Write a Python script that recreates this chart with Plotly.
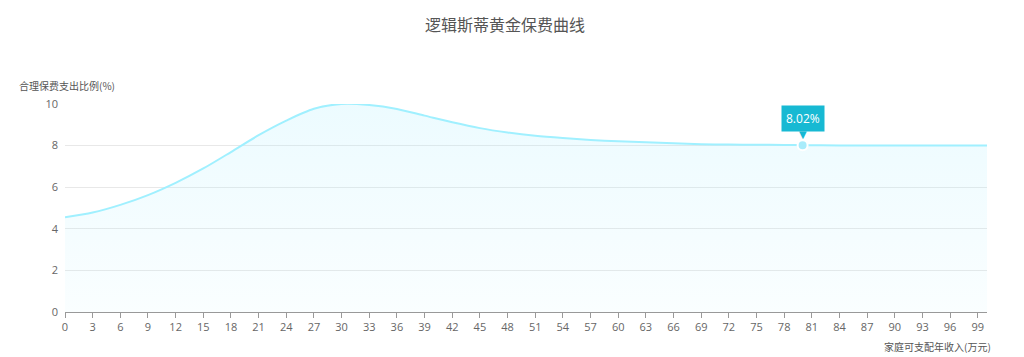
import plotly.graph_objects as go

# Data
income = [0, 3, 6, 9, 12, 15, 18, 21, 24, 27, 30, 33, 36, 39, 42, 45, 48, 51, 54, 57,
          60, 63, 66, 69, 72, 75, 78, 80, 84, 87, 90, 93, 96, 99, 100]
ratio = [4.55, 4.78, 5.15, 5.62, 6.21, 6.90, 7.69, 8.50, 9.20, 9.77, 10.0, 9.95, 9.76,
         9.44, 9.12, 8.84, 8.63, 8.47, 8.36, 8.27, 8.21, 8.16, 8.11, 8.07, 8.05, 8.04,
         8.03, 8.02, 8.01, 8.01, 8.01, 8.0, 8.0, 8.0, 8.0]
mark_x = [80]
mark_y = [8.02]
mark_label = ["8.02%"]
x_ticks = list(range(0, 100, 3))
y_ticks = [0, 2, 4, 6, 8, 10]

fig = go.Figure()
fig.add_trace(go.Scatter(
    x=income, y=ratio, mode="lines",
    line=dict(color="#a0f0ff", width=2, shape="spline", smoothing=0.8),
    fill="tozeroy",
    fillgradient=dict(type="vertical",
                      colorscale=[[0, "rgba(170,238,255,0.06)"], [1, "rgba(170,238,255,0.22)"]]),
    hoverinfo="skip", showlegend=False,
))
fig.add_trace(go.Scatter(
    x=mark_x, y=mark_y, mode="markers",
    marker=dict(size=10, color="#a9ecfb", line=dict(color="white", width=2)),
    showlegend=False, hoverinfo="skip",
))
for mx, my, lab in zip(mark_x, mark_y, mark_label):
    fig.add_annotation(x=mx, y=my, text=lab, showarrow=False, yanchor="bottom",
                       yshift=13, bgcolor="#17b9d3", borderpad=4,
                       font=dict(color="white", size=12, family="Open Sans, sans-serif"))
    fig.add_annotation(x=mx, y=my, text="▼", showarrow=False, yanchor="bottom",
                       yshift=3, font=dict(color="#17b9d3", size=10, family="DejaVu Sans"))

fig.update_layout(
    width=1008, height=349,
    margin=dict(l=57, r=29, t=96, b=45),
    paper_bgcolor="white", plot_bgcolor="white",
    title=dict(text="逻辑斯蒂黄金保费曲线", x=0.493, xanchor="center", y=0.951, yanchor="middle",
               font=dict(size=16, color="#555", family="Noto Sans CJK SC")),
    font=dict(family="Open Sans, Noto Sans CJK SC, sans-serif", color="#666", size=11),
    xaxis=dict(range=[0, 100], tickvals=x_ticks, ticktext=[str(v) for v in x_ticks],
               showgrid=False, zeroline=False, showline=True, linecolor="#999", linewidth=1,
               ticks="outside", ticklen=5, tickcolor="#999",
               tickfont=dict(size=11, color="#666")),
    yaxis=dict(range=[0, 10], tickvals=y_ticks, showgrid=True, gridcolor="#e8e8e8",
               zeroline=False, showline=False, ticks="", ticklabelstandoff=6,
               tickfont=dict(size=11, color="#666")),
)
fig.add_annotation(xref="paper", yref="paper", x=-0.052, y=1.091, xanchor="left",
                   yanchor="middle", text="合理保费支出比例(%)", showarrow=False,
                   font=dict(size=10, color="#555", family="Noto Sans CJK SC"))
fig.add_annotation(xref="paper", yref="paper", x=1.0065, y=-0.168, xanchor="right",
                   yanchor="middle", text="家庭可支配年收入(万元)", showarrow=False,
                   font=dict(size=10, color="#555", family="Noto Sans CJK SC"))

fig.write_html("out.html")
